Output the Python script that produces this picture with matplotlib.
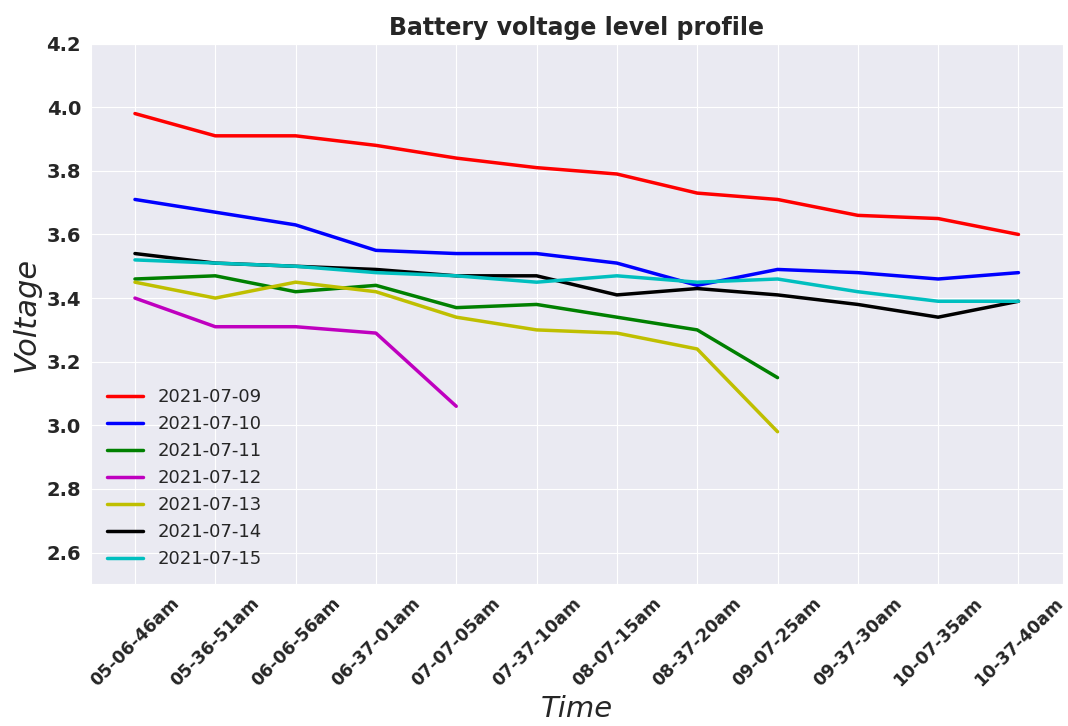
import matplotlib
matplotlib.use('Agg')
import matplotlib.pyplot as plt
import seaborn as sns

times = ['05-06-46am', '05-36-51am', '06-06-56am', '06-37-01am', '07-07-05am', '07-37-10am',
         '08-07-15am', '08-37-20am', '09-07-25am', '09-37-30am', '10-07-35am', '10-37-40am']

v_0709 = [3.98, 3.91, 3.91, 3.88, 3.84, 3.81, 3.79, 3.73, 3.71, 3.66, 3.65, 3.60]
v_0710 = [3.71, 3.67, 3.63, 3.55, 3.54, 3.54, 3.51, 3.44, 3.49, 3.48, 3.46, 3.48]
v_0711 = [3.46, 3.47, 3.42, 3.44, 3.37, 3.38, 3.34, 3.30, 3.15]
v_0712 = [3.40, 3.31, 3.31, 3.29, 3.06]
v_0713 = [3.45, 3.40, 3.45, 3.42, 3.34, 3.30, 3.29, 3.24, 2.98]
v_0714 = [3.54, 3.51, 3.50, 3.49, 3.47, 3.47, 3.41, 3.43, 3.41, 3.38, 3.34, 3.39]
v_0715 = [3.52, 3.51, 3.50, 3.48, 3.47, 3.45, 3.47, 3.45, 3.46, 3.42, 3.39, 3.39]

days = ['2021-07-09', '2021-07-10', '2021-07-11', '2021-07-12', '2021-07-13', '2021-07-14', '2021-07-15']
series = [v_0709, v_0710, v_0711, v_0712, v_0713, v_0714, v_0715]
colors = ['r', 'b', 'g', 'm', 'y', 'k', 'c']

sns.set_style('darkgrid')
fig, ax = plt.subplots(figsize=(10.68, 7.26), dpi=100)

for day, vals, c in zip(days, series, colors):
    ax.plot(times[:len(vals)], vals, color=c, linewidth=2.5, label=day)

ax.set_ylim(2.5, 4.2)
ax.set_yticks([2.6, 2.8, 3.0, 3.2, 3.4, 3.6, 3.8, 4.0, 4.2])
ax.tick_params(axis='y', labelsize=14)
ax.tick_params(axis='x', labelsize=12.5)
for lbl in ax.get_xticklabels() + ax.get_yticklabels():
    lbl.set_fontweight('bold')
plt.setp(ax.get_xticklabels(), rotation=45)

ax.set_title('Battery voltage level profile', fontsize=17, fontweight='bold')
ax.set_xlabel('Time', fontsize=21, style='italic')
ax.set_ylabel('Voltage', fontsize=22, style='italic')
ax.legend(loc='lower left', fontsize=13, frameon=False)

fig.subplots_adjust(left=0.085, right=0.995, top=0.94, bottom=0.195)
fig.savefig('out.png')
